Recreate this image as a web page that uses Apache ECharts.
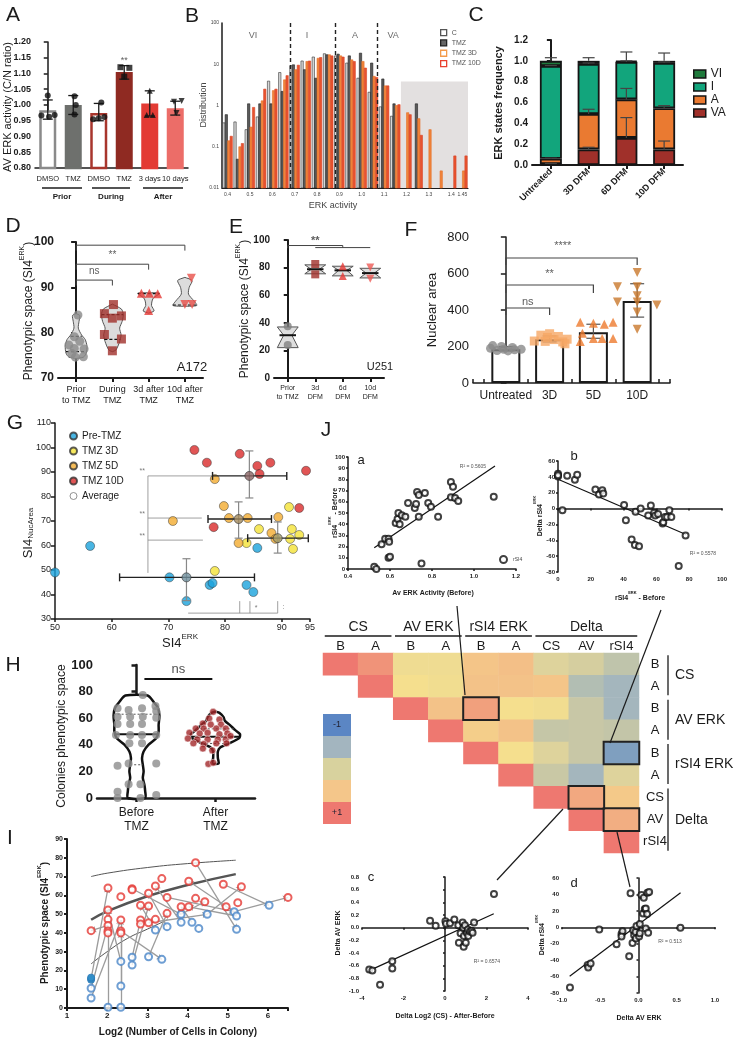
<!DOCTYPE html>
<html>
<head>
<meta charset="utf-8">
<script src="https://cdn.jsdelivr.net/npm/echarts@6/dist/echarts.min.js"></script>
<style>
html, body { margin: 0; padding: 0; background: #fff; }
#fig { width: 738px; height: 1039px; }
</style>
</head>
<body>
<div id="fig"></div>
<script>

var FONT = '"Liberation Sans", Arial, sans-serif';
var INK = '#1b1b1b';
var DOWN = 'path://M0,0L10,0L5,9Z';

// ---------- A : AV ERK activity ----------
var aCats = ['DMSO', 'TMZ', 'DMSO', 'TMZ', '3 days', '10 days'];
var aMeans = [0.983, 1.0, 0.975, 1.105, 1.005, 0.99];
var aLow = [0.955, 0.97, 0.95, 1.082, 0.965, 0.968];
var aHigh = [1.016, 1.03, 1.005, 1.125, 1.045, 1.012];
var aFill = ['#ffffff', '#6e706d', '#ffffff', '#8f2a22', '#e33b34', '#ec6d68'];
var aEdge = ['#8a8a8a', '#6e706d', '#a8362d', '#8f2a22', '#e33b34', '#ec6d68'];
var aSymbol = ['circle', 'circle', 'circle', 'rect', 'triangle', DOWN];
var aDots = [
    [[0.0, 1.03], [-0.25, 0.967], [0.05, 0.963], [0.27, 0.968]],
    [[0.05, 1.028], [0.1, 1.0], [0.05, 0.97]],
    [[0.1, 1.008], [-0.22, 0.955], [0.0, 0.958], [0.22, 0.962]],
    [[-0.15, 1.12], [0.2, 1.118], [0.0, 1.09]],
    [[0.0, 1.045], [-0.12, 0.968], [0.12, 0.968]],
    [[-0.05, 1.01], [0.25, 1.013], [0.05, 0.975]]
];

// ---------- B : ERK activity distribution ----------
var bBins = ['0.4', '0.45', '0.5', '0.55', '0.6', '0.65', '0.7', '0.75', '0.8', '0.85', '0.9',
             '0.95', '1.0', '1.05', '1.1', '1.15', '1.2', '1.25', '1.3', '1.35', '1.4', '1.45'];
var bC    = [0.38, 0.4, 0.26, 0.53, 3.9, 6.3, 9.2, 12, 15, 18, 16, 10.7, 4.6, 2.1, 0.93, 0.55, null, null, null, null, null, null];
var bTMZ  = [0.6, 0.05, 1.1, 1.1, 1.1, 2.2, 9.7, 7.4, 4.6, 17, 17.6, 16, 18.6, 10.7, 4.4, 1.1, null, 1.1, null, null, null, null];
var b3D   = [0.14, 0.1, 0.3, 1.3, 2.3, 4.2, 7.4, 11.7, 14, 17, 16, 12.8, 11.7, 5.1, 3.0, 1.0, 0.67, 0.48, 0.26, 0.026, null, 0.026];
var b10D  = [0.18, 0.12, 0.9, 2.5, 2.5, 5.3, 9.5, 12, 14.6, 16, 15, 11.7, 8.1, 4.8, 3.0, 1.05, 0.6, 0.19, null, null, 0.06, 0.06];
var bCuts = [0.675, 0.875, 1.075];
var bStates = [[0.514, 50, 'VI'], [0.755, 50, 'I'], [0.97, 50, 'A'], [1.14, 50, 'VA']];

// ---------- C : ERK states frequency ----------
var cCats = ['Untreated', '3D DFM', '6D DFM', '10D DFM'];
var cVA = [0.01, 0.15, 0.26, 0.15];
var cA  = [0.05, 0.34, 0.37, 0.395];
var cI  = [0.89, 0.48, 0.36, 0.435];
var cVI = [0.05, 0.03, 0.01, 0.02];
var cErrVA = [0.015, 0.17, 0.455, 0.23];
var cErrA  = [0.065, 0.535, 0.735, 0.57];
var cErrI  = [0.955, 0.98, 1.0, 0.99];
var cErrVI = [1.03, 1.03, 1.085, 1.075];

// ---------- D : A172 phenotypic space ----------
var dCats = ['Prior\nto TMZ', 'During\nTMZ', '3d after\nTMZ', '10d after\nTMZ'];
var dDots = [
    [[0.05, 83.9], [-0.05, 79.1], [0.1, 78.1], [-0.2, 77.3], [-0.05, 76.5], [0.22, 76.4], [-0.12, 75.4], [0.2, 74.7], [-0.02, 74.6]],
    [[0.03, 86.2], [-0.22, 84.2], [0.0, 83.2], [0.25, 83.7], [-0.22, 79.6], [0.25, 78.6], [0.0, 76.0]],
    [[-0.2, 88.7], [0.02, 88.7], [0.25, 88.6], [0.0, 84.9]],
    [[0.18, 92], [0.0, 86.2], [0.2, 86.2]]
];
var dViolins = [
    [[74.3, 0], [74.6, 0.2], [75.5, 0.28], [77, 0.3], [78.5, 0.25], [79.5, 0.15], [81, 0.06], [82.5, 0.08], [83.8, 0.1], [84.2, 0]],
    [[75.8, 0], [76.2, 0.1], [78, 0.2], [79.5, 0.24], [81, 0.2], [82.5, 0.27], [84, 0.3], [85.2, 0.25], [86.3, 0]],
    [[84.3, 0], [84.8, 0.15], [86, 0.08], [87.5, 0.12], [88.7, 0.3], [88.8, 0]],
    [[85.8, 0], [86, 0.33], [87, 0.25], [88.5, 0.1], [90, 0.12], [91.5, 0.2], [92.2, 0]]
];
var dLines = [[0, 79.2, 0.15], [0, 75.8, 0.28], [1, 84.0, 0.3], [1, 78.5, 0.22], [2, 88.6, 0.3], [3, 86.1, 0.33]];
var dBrackets = [[0, 1, 91.6, 1.2, 1.2], [0, 2, 95.1, 1.2, 1.2], [0, 3, 99.3, 1.2, 1.2]];
var dSigns = [[0.5, 93.5, 'ns'], [1, 97, '**'], [1.5, 101.2, '**']];

// ---------- E : U251 phenotypic space ----------
var eCats = ['Prior\nto TMZ', '3d\nDFM', '6d\nDFM', '10d\nDFM'];
var eDots = [[[0, 37.5], [0, 24]], [[0, 82.6], [0, 75.1]], [[0, 81], [0, 74]], [[0, 80], [0, 72]]];
var eShapes = [
    [[22, 0.38], [31, 0.15], [37, 0.38]],
    [[75.5, 0.38], [78.8, 0.15], [82, 0.38]],
    [[74, 0.38], [78, 0.15], [81, 0.38]],
    [[72.5, 0.38], [76, 0.15], [79.5, 0.38]]
];
var eMedians = [[0, 31, 0.3], [1, 78.8, 0.3], [2, 78, 0.3], [3, 76, 0.3]];
var eBrackets = [[0, 2, 96, 2, 1.5], [1, 3, 94.5, 0, 0]];
var eSigns = [[1, 99, '**']];

// ---------- F : nuclear area ----------
var fCats = ['Untreated', '3D', '5D', '10D'];
var fMeans = [185, 240, 278, 450];
var fErr = [[0, 176, 200], [1, 225, 258], [2, 245, 322], [3, 361, 544]];
var fDots = [
    [[-0.3, 205], [-0.1, 200], [0.15, 195], [0.35, 185], [-0.35, 190], [-0.05, 185], [0.2, 182], [-0.2, 178], [0.05, 176]],
    [[-0.35, 230], [-0.05, 250], [0.2, 255], [0.4, 240], [-0.2, 262], [0.1, 238], [0.3, 225], [-0.1, 228], [0.35, 215], [0.0, 270]],
    [[-0.3, 333], [0.0, 328], [0.25, 322], [0.45, 333], [-0.25, 272], [0.0, 244], [0.2, 244], [0.45, 244], [-0.3, 228]],
    [[0, 605], [-0.45, 528], [0, 528], [0, 478], [-0.45, 444], [0, 444], [0.45, 428], [0, 389], [0, 294]]
];
var fBrackets = [[0, 1, 411, 38, 38], [0, 2, 537, 44, 44], [0, 3, 685, 38, 38]];
var fSigns = [[0.5, 445, 'ns'], [1, 600, '**'], [1.3, 752, '****']];

// ---------- G : SI4 ERK vs SI4 nuclear area ----------
var gPre  = [[50, 49], [56.2, 59.8], [70.2, 47], [73.2, 37.3], [77.3, 43.9], [77.8, 44.7], [83.8, 43.9], [85, 41], [85.7, 59]];
var g3D   = [[78.2, 49.6], [83.8, 61], [86, 66.7], [91.3, 75.7], [91.8, 66.7], [93.1, 64.3], [91.5, 62.7], [92, 58.6]];
var g5D   = [[78.2, 87.1], [70.8, 70], [79.8, 76.1], [80.7, 71.2], [84, 71.2], [89.4, 71.6], [88.2, 65.1], [82.4, 61], [88.9, 62.7]];
var g10D  = [[74.6, 99], [76.8, 93.8], [82.6, 97.4], [85.7, 92.5], [88, 93.8], [86.1, 89.2], [94.3, 90.5], [93.1, 75.3], [78, 67.5]];
// [x, y, xlow, xhigh, ylow, yhigh]
var gAvg  = [[73.2, 47, 61.4, 85.2, 37.5, 54.6], [89.3, 63, 84, 94.7, 56.9, 69.6], [82.4, 70.8, 77, 88.2, 63, 77.8], [84.3, 88.4, 77.8, 90.9, 79.4, 98.6]];
var gAvgColors = ['#6f8f9c', '#a39c6c', '#a3895c', '#8a6464'];
var gSigLines = [
    [66.4, 88.4, 66.4, 48.8], [66.4, 88.4, 77.9, 88.4], [66.4, 71.2, 75.9, 71.2], [66.4, 62.2, 76.1, 62.2],
    [73.5, 32.4, 89.3, 32.4], [82.6, 32.4, 82.6, 37.3], [84.4, 32.4, 84.4, 37.3], [89.3, 32.4, 89.3, 37.3]
];
var gSigns = [[65.4, 90.5, '**'], [65.4, 73, '**'], [65.4, 64, '**'], [85.5, 34.5, '*'], [90.3, 35, ':']];

// ---------- H : colonies phenotypic space ----------
var hCats = ['Before\nTMZ', 'After\nTMZ'];
var hBefore = [[-0.24, 67.4], [-0.1, 66.2], [0.08, 77.4], [0.07, 67.4], [0.24, 69.2], [0.25, 65.4], [-0.24, 61], [-0.08, 61],
    [0.08, 61], [0.25, 60.4], [-0.24, 55.6], [-0.08, 55.6], [0.07, 55.6], [-0.26, 47.4], [-0.08, 47.4], [0.07, 47.4],
    [0.25, 47.4], [-0.09, 41.1], [0.07, 41.1], [-0.24, 24.3], [-0.1, 26], [0.25, 26], [-0.1, 10.3], [0.05, 10.3],
    [-0.24, 4.7], [0.25, 2.3], [-0.24, 0], [0.05, 0]];
var hAfter = [[-0.03, 64.8], [-0.08, 59.8], [0.05, 59], [-0.16, 56], [-0.06, 55.2], [0.07, 55.2], [-0.25, 52.2], [-0.15, 52.2],
    [0.01, 52.2], [0.13, 52.2], [-0.33, 49], [-0.2, 48.5], [-0.1, 49], [0.05, 48], [0.15, 48.5], [-0.35, 44.7], [-0.23, 44],
    [-0.1, 44], [0.03, 44], [0.13, 44.2], [0.19, 46.6], [-0.28, 41.1], [-0.15, 40.6], [0.01, 41.1], [0.14, 41.1],
    [-0.16, 37.2], [-0.04, 35.8], [-0.09, 25.6], [-0.03, 26.5]];
var hViolins = [
    [[0, 0.11], [5, 0.11], [10, 0.1], [15, 0.08], [20, 0.09], [25, 0.08], [30, 0.07], [35, 0.09], [40, 0.15], [45, 0.25],
     [50, 0.28], [55, 0.28], [62, 0.29], [68, 0.27], [72, 0.22], [77, 0.14]],
    [[26, 0.04], [30, 0.03], [35, 0.03], [38, 0.06], [41, 0.17], [45, 0.3], [48, 0.31], [51, 0.25], [55, 0.18], [58, 0.12],
     [61, 0.1], [64, 0.05], [65, 0.0]]
];
var hMedians = [[0, 48, 0.28], [1, 46, 0.3]];
var hQuartiles = [[0, 63, 0.29], [0, 25, 0.08], [1, 52, 0.25], [1, 41, 0.17]];
var hBrackets = [[0.1, 0.96, 89.5, 0, 0]];
var hSigns = [[0.53, 97, 'ns']];

// ---------- I : colony size vs phenotypic space ----------
var iBefore = [[1.6, 5.3], [1.6, 10.5], [2.02, 0.4], [2.34, 0.4], [2.34, 11.7], [2.34, 24.8], [2.62, 27], [2.62, 22.9],
    [3.03, 27.3], [3.2, 41.5], [3.36, 25.9], [3.49, 43.3], [3.84, 49.9], [3.84, 45.6], [4.11, 45.6], [4.28, 42.4],
    [4.49, 49.9], [5.16, 51.3], [5.22, 49], [5.22, 41.9], [6.03, 54.7]];
var iBeforeFilled = [[1.6, 15], [1.6, 15.6], [1.6, 16.2]];
var iAfter = [[1.6, 41.2], [2.02, 63.9], [2.02, 52.2], [2.02, 47.2], [2.02, 44], [2.02, 41], [2.02, 40], [2.34, 59.3],
    [2.34, 46.9], [2.34, 41], [2.34, 40], [2.62, 63.5], [2.62, 63], [2.83, 54.7], [2.83, 46.9], [2.83, 44.7], [3.03, 61.1],
    [3.03, 54.3], [3.03, 45.4], [3.2, 65], [3.2, 47.2], [3.36, 68.9], [3.49, 58.9], [3.49, 50.4], [3.84, 53.9], [4.03, 53.9],
    [4.03, 67.5], [4.2, 77.4], [4.2, 58.4], [4.43, 56.6], [4.89, 65.9], [4.96, 53.9], [5.25, 56.1], [5.34, 64.6], [6.5, 58.9]];
var iArrows = [
    [[1.6, 5.3], [2.34, 46.9]], [[1.6, 10.5], [2.02, 44]], [[1.6, 15.6], [2.02, 63.9]], [[2.02, 0.4], [2.02, 41]],
    [[2.34, 0.4], [2.34, 40]], [[2.34, 11.7], [2.34, 46.9]], [[2.34, 24.8], [2.02, 52.2]], [[2.62, 22.9], [3.03, 54.3]],
    [[2.62, 27], [2.83, 46.9]], [[3.03, 27.3], [3.49, 50.4]], [[3.2, 41.5], [2.83, 54.7]], [[2.34, 41], [3.36, 25.9]],
    [[3.49, 43.3], [3.03, 61.1]], [[3.84, 49.9], [4.43, 56.6]], [[3.84, 45.6], [3.2, 65]], [[4.11, 45.6], [3.84, 53.9]],
    [[4.49, 49.9], [5.34, 64.6]], [[5.16, 51.3], [4.03, 67.5]], [[5.22, 49], [4.03, 53.9]], [[4.2, 77.4], [5.22, 41.9]],
    [[4.89, 65.9], [6.03, 54.7]], [[5.16, 51.3], [6.5, 58.9]], [[3.03, 45.4], [4.49, 49.9]], [[3.49, 58.9], [5.16, 51.3]],
    [[2.62, 63.5], [3.84, 49.9]], [[2.02, 44], [1.6, 41.2]]
];
var iUpper = [[1.6, 70], [2, 71.8], [3, 74.8], [4, 76.9], [5.2, 78.7]];
var iMiddle = [[1.6, 47], [2, 51.5], [3, 59.5], [4, 65.5], [5.2, 71.3]];
var iLower = [[1.6, 23.5], [2, 30], [2.5, 37], [3, 42], [3.5, 47]];

// ---------- J : correlations ----------
var jaPts = [[0.525, 2], [0.535, 0], [0.56, 22], [0.577, 27], [0.593, 27], [0.596, 24.4], [0.593, 10], [0.6, 11],
    [0.627, 41], [0.636, 44.6], [0.64, 50], [0.646, 40], [0.656, 48], [0.673, 46.7], [0.686, 58.9], [0.718, 54.5],
    [0.724, 58], [0.729, 68.8], [0.737, 66], [0.737, 46.7], [0.75, 5], [0.766, 67.8], [0.782, 58.9], [0.795, 55.6],
    [0.829, 46.7], [0.89, 77.6], [0.9, 73.5], [0.89, 64], [0.91, 63.4], [0.925, 60.7], [1.094, 64.5]];
var jaFit = [[0.525, 19], [1.1, 92]];
var jbPts = [[0, 44], [0, 40.6], [0, 42], [2.7, -2], [5.6, 41.5], [10.3, 36.5], [11.7, 42.8], [22.8, 24], [25, 17.6],
    [27, 23], [27.6, 18.9], [40.3, 4.6], [41.4, -14.7], [44.9, -39], [46.9, -46], [47.3, -4], [49.4, -47.4], [50.4, 0],
    [55, -8.8], [56.6, 4], [58.6, -5.4], [59.3, -8.8], [61, -6.7], [63.8, -18.9], [64.2, -17.2], [65.2, -10.5],
    [66.5, -10.5], [67.9, -2], [69.1, -10.5], [73.6, -72.5], [77.8, -34]];
var jbFit = [[0, 37], [78, -32.7]];
var jcPts = [[-3.65, -0.66], [-3.5, -0.675], [-3.13, -0.9], [-2.54, -0.53], [-2.54, -0.645], [-0.72, 0.11], [-0.45, 0.03],
    [0.02, 0.1], [0.05, 0.06], [0.24, 0.07], [0.45, 0.13], [0.64, 0.04], [0.67, -0.24], [0.75, -0.09], [0.85, 0.08],
    [0.88, 0.0], [0.9, -0.3], [0.91, -0.13], [0.96, 0.04], [1.0, -0.24], [1.05, -0.08], [1.1, -0.03], [1.12, -0.13],
    [1.2, -0.06], [1.28, -0.05], [1.33, -0.08], [1.4, 0.08], [2.36, 0.53]];
var jcFit = [[-3.6, -0.67], [2.35, 0.22]];
var jdPts = [[-0.896, -73.3], [-0.665, -46], [-0.657, -49], [-0.626, -44], [-0.513, -2.7], [-0.287, -20.5], [-0.222, -8.3],
    [-0.209, -4.7], [-0.222, -11.2], [-0.122, -35.4], [-0.104, 41.3], [-0.078, -19], [-0.07, -3.5], [-0.057, -9.6],
    [-0.039, -5.7], [-0.035, -13.8], [-0.026, 1.7], [0.008, -11.2], [0.017, 3.9], [0.017, -7.4], [0.039, 39.3],
    [0.06, 16.9], [0.069, 35.9], [0.082, 22.2], [0.095, -1.5], [0.095, 23], [0.112, 16.1], [0.117, 42], [0.126, -6.8],
    [0.139, 42.9], [0.548, -0.7]];
var jdFit = [[-0.9, -59.5], [0.55, 42]];

// correlation matrix (upper triangle, row r starts at column r)
var hmNames = ['CS B', 'CS A', 'AV B', 'AV A', 'rSI4 B', 'rSI4 A', 'dCS', 'dAV', 'drSI4'];
var hmCorr = [
    [1, 0.9, 0.42, 0.42, 0.68, 0.72, 0.2, 0.1, -0.15],
    [1, 0.5, 0.45, 0.7, 0.7, 0.68, -0.3, -0.45],
    [1, 0.7, 0.85, 0.5, 0.45, -0.05, -0.45],
    [1, 0.62, 0.7, -0.08, -0.05, -0.1],
    [1, 0.5, 0.2, -0.05, -0.75],
    [1, -0.03, -0.45, 0.2],
    [1, 0.82, 0.65],
    [1, 0.8],
    [1]
];
var hmBoxes = [[4, 2], [8, 4], [7, 6], [8, 7]];
var hmScale = ['#4f7fc2', '#7f9fbf', '#a0b4c0', '#b6c0b0', '#ccc9a3', '#e3d59a', '#f5df8e', '#f3bb86', '#ee7870'];


// ------------------------------------------------------------------
var grids = [], xAxes = [], yAxes = [], series = [], legends = [], graphics = [];

function addGrid(l, t, w, h) {
    grids.push({left: l, top: t, width: w, height: h});
    return grids.length - 1;
}

function axLine(w) {
    return {show: true, lineStyle: {color: INK, width: w}};
}

function addX(o) { xAxes.push(o); return xAxes.length - 1; }
function addY(o) { yAxes.push(o); return yAxes.length - 1; }

function hiddenX(gi, n) {
    return addX({gridIndex: gi, type: 'value', min: -0.5, max: n - 0.5, show: false});
}

function txt(x, y, s, size, o) {
    o = o || {};
    graphics.push({
        type: 'text', x: x, y: y, rotation: o.rot || 0, silent: true, z: 20,
        style: {
            text: s, fill: o.color || INK, fontSize: size, fontWeight: o.bold ? 'bold' : 'normal',
            fontFamily: FONT, align: o.align || 'center', verticalAlign: o.va || 'middle', rich: o.rich
        }
    });
}

function seg(x1, y1, x2, y2, w, color) {
    graphics.push({type: 'line', silent: true, z: 20, shape: {x1: x1, y1: y1, x2: x2, y2: y2},
        style: {stroke: color || INK, lineWidth: w || 1}});
}

function rect(x, y, w, h, fill, stroke) {
    graphics.push({type: 'rect', silent: true, z: 19, shape: {x: x, y: y, width: w, height: h},
        style: {fill: fill, stroke: stroke || null, lineWidth: 1}});
}

function supRich(size, bold) {
    var fw = bold ? 'bold' : 'normal';
    return {
        n: {fontSize: size, fontWeight: fw, verticalAlign: 'bottom', lineHeight: size + 4, fontFamily: FONT, fill: INK},
        s: {fontSize: Math.round(size * 0.62), fontWeight: fw, verticalAlign: 'top', lineHeight: size + 4, fontFamily: FONT, fill: INK},
        b: {fontSize: Math.round(size * 0.62), fontWeight: fw, verticalAlign: 'bottom', lineHeight: size + 4, fontFamily: FONT, fill: INK}
    };
}

function textSeries(xi, yi, items, size, bold, color) {
    series.push({
        type: 'scatter', xAxisIndex: xi, yAxisIndex: yi, silent: true, z: 6,
        symbolSize: 1, itemStyle: {color: 'rgba(0,0,0,0)'}, data: items,
        label: {show: true, position: 'inside', formatter: function (p) { return p.value[2]; },
            fontSize: size, fontWeight: bold ? 'bold' : 'normal', color: color || INK, fontFamily: FONT}
    });
}

function errSeries(xi, yi, items, cap, color, width, upperOnly) {
    series.push({
        type: 'custom', xAxisIndex: xi, yAxisIndex: yi, silent: true, z: 5, data: items,
        renderItem: function (params, api) {
            var x = api.value(0);
            var lo = api.coord([x, api.value(1)]);
            var hi = api.coord([x, api.value(2)]);
            var st = {stroke: color, lineWidth: width, fill: null};
            var kids = [
                {type: 'line', shape: {x1: lo[0], y1: lo[1], x2: hi[0], y2: hi[1]}, style: st},
                {type: 'line', shape: {x1: hi[0] - cap, y1: hi[1], x2: hi[0] + cap, y2: hi[1]}, style: st}
            ];
            if (!upperOnly) {
                kids.push({type: 'line', shape: {x1: lo[0] - cap, y1: lo[1], x2: lo[0] + cap, y2: lo[1]}, style: st});
            }
            return {type: 'group', children: kids};
        }
    });
}

function violinSeries(xi, yi, profiles, fill, stroke, width, smooth) {
    series.push({
        type: 'custom', xAxisIndex: xi, yAxisIndex: yi, silent: true, z: 2,
        data: profiles.map(function (p, i) { return [i, p[0][0]]; }),
        renderItem: function (params, api) {
            var prof = profiles[params.dataIndex];
            var cx = api.value(0);
            var unit = api.size([1, 0])[0];
            var left = [], right = [];
            prof.forEach(function (p) {
                var c = api.coord([cx, p[0]]);
                left.push([c[0] - p[1] * unit, c[1]]);
                right.unshift([c[0] + p[1] * unit, c[1]]);
            });
            return {type: 'polygon', shape: {points: left.concat(right), smooth: smooth || 0},
                style: {fill: fill, stroke: stroke, lineWidth: width}};
        }
    });
}

function hLineSeries(xi, yi, items, color, width, dash) {
    series.push({
        type: 'custom', xAxisIndex: xi, yAxisIndex: yi, silent: true, z: 3, data: items,
        renderItem: function (params, api) {
            var unit = api.size([1, 0])[0];
            var c = api.coord([api.value(0), api.value(1)]);
            var h = api.value(2) * unit;
            return {type: 'line', shape: {x1: c[0] - h, y1: c[1], x2: c[0] + h, y2: c[1]},
                style: {stroke: color, lineWidth: width, lineDash: dash || null}};
        }
    });
}

function bracketSeries(xi, yi, items, color, width) {
    series.push({
        type: 'custom', xAxisIndex: xi, yAxisIndex: yi, silent: true, z: 5, data: items, clip: false,
        renderItem: function (params, api) {
            var x1 = api.value(0), x2 = api.value(1), y = api.value(2);
            var pts = [api.coord([x1, y - api.value(3)]), api.coord([x1, y]), api.coord([x2, y]), api.coord([x2, y - api.value(4)])];
            return {type: 'polyline', shape: {points: pts}, style: {stroke: color, lineWidth: width, fill: null}};
        }
    });
}

function segSeries(xi, yi, items, color, width) {
    series.push({
        type: 'custom', xAxisIndex: xi, yAxisIndex: yi, silent: true, z: 3, data: items, clip: false,
        renderItem: function (params, api) {
            var a = api.coord([api.value(0), api.value(1)]);
            var b = api.coord([api.value(2), api.value(3)]);
            return {type: 'line', shape: {x1: a[0], y1: a[1], x2: b[0], y2: b[1]}, style: {stroke: color, lineWidth: width}};
        }
    });
}

function catAxis(gi, cats, size, o) {
    o = o || {};
    return addX({
        gridIndex: gi, type: 'category', data: cats,
        axisLine: axLine(o.lw || 1.5),
        axisTick: {show: !!o.ticks, alignWithLabel: true, length: 4, lineStyle: {color: INK, width: o.lw || 1.5}},
        axisLabel: {fontSize: size, color: INK, interval: 0, margin: o.margin || 5, fontWeight: o.bold ? 'bold' : 'normal',
            rotate: o.rotate || 0, lineHeight: size + 2}
    });
}

function valAxisY(gi, min, max, step, size, o) {
    o = o || {};
    return addY({
        gridIndex: gi, type: 'value', min: min, max: max, interval: step,
        axisLine: axLine(o.lw || 1.5),
        axisTick: {show: true, length: o.tick || 4, lineStyle: {color: INK, width: o.lw || 1.5}},
        splitLine: {show: false},
        axisLabel: {fontSize: size, color: INK, fontWeight: o.bold ? 'bold' : 'normal', margin: o.margin || 4,
            formatter: o.fmt || null}
    });
}

function valAxisX(gi, min, max, step, size, o) {
    o = o || {};
    return addX({
        gridIndex: gi, type: 'value', min: min, max: max, interval: step,
        axisLine: axLine(o.lw || 1.5),
        axisTick: {show: true, length: o.tick || 3, inside: !!o.inside, lineStyle: {color: INK, width: o.lw || 1.5}},
        splitLine: {show: false},
        axisLabel: {fontSize: size, color: INK, fontWeight: o.bold ? 'bold' : 'normal', margin: o.margin || 4,
            formatter: o.fmt || null}
    });
}

function fix(n) { return function (v) { return v.toFixed(n); }; }

// ================= A =================
(function () {
    var gi = addGrid(35, 42, 153, 126);
    var xi = catAxis(gi, aCats, 7.5, {margin: 6});
    var xv = hiddenX(gi, aCats.length);
    var yi = valAxisY(gi, 0.8, 1.2, 0.05, 9, {bold: true, fmt: fix(2)});

    series.push({
        type: 'bar', xAxisIndex: xi, yAxisIndex: yi, barWidth: 17, z: 2,
        data: aMeans.map(function (v, i) {
            return {value: v, itemStyle: {color: aFill[i], borderColor: aEdge[i], borderWidth: 2.5}};
        })
    });
    errSeries(xv, yi, aMeans.map(function (v, i) { return [i, aLow[i], aHigh[i]]; }), 5, INK, 1.3);
    var dots = [];
    aDots.forEach(function (g, i) {
        g.forEach(function (p) { dots.push({value: [i + p[0], p[1]], symbol: aSymbol[i]}); });
    });
    series.push({type: 'scatter', xAxisIndex: xv, yAxisIndex: yi, symbolSize: 6, z: 6,
        itemStyle: {color: '#111'}, data: dots});
    textSeries(xv, yi, [[3, 1.142, '**']], 9, false, '#333');

    txt(13, 15, 'A', 21);
    txt(8, 107, 'AV ERK activity (C/N ratio)', 11, {rot: Math.PI / 2});
    seg(42, 188, 82, 188, 1.3);
    seg(92, 188, 130, 188, 1.3);
    seg(143, 188, 183, 188, 1.3);
    txt(62, 197, 'Prior', 8, {bold: true});
    txt(111, 197, 'During', 8, {bold: true});
    txt(163, 197, 'After', 8, {bold: true});
})();

// ================= B =================
(function () {
    var gi = addGrid(222, 23, 246, 165);
    var xi = addX({
        gridIndex: gi, type: 'category', data: bBins,
        axisLine: axLine(1.2), axisTick: {show: false},
        axisLabel: {fontSize: 5, color: '#444', margin: 4, interval: 0,
            formatter: function (v) { return (v.length === 4 && v !== '1.45') ? '' : v; }}
    });
    var xv = addX({gridIndex: gi, type: 'value', min: 0.375, max: 1.475, show: false});
    var yi = addY({
        gridIndex: gi, type: 'log', logBase: 10, min: 0.01, max: 100,
        axisLine: axLine(1.5), axisTick: {show: false}, splitLine: {show: false},
        axisLabel: {fontSize: 5, color: '#444', margin: 3}
    });

    // grey zone and state boundaries
    series.push({
        type: 'line', xAxisIndex: xv, yAxisIndex: yi, data: [], z: 1, silent: true,
        markArea: {silent: true, itemStyle: {color: '#e3e0e0'},
            data: [[{xAxis: 1.175, yAxis: 0.01}, {xAxis: 1.475, yAxis: 3.8}]]},
        markLine: {silent: true, symbol: 'none', label: {show: false},
            lineStyle: {color: '#222', type: [4, 3], width: 1.4},
            data: bCuts.map(function (c) { return {xAxis: c}; })}
    });

    function bars(name, values, k, fill, edge) {
        series.push({
            type: 'custom', name: name, xAxisIndex: xi, yAxisIndex: yi, z: 3,
            itemStyle: {color: fill, borderColor: edge},
            data: values.map(function (v, i) { return [i, v]; }).filter(function (d) { return d[1] != null; }),
            renderItem: function (params, api) {
                var top = api.coord([api.value(0), api.value(1)]);
                var base = api.coord([api.value(0), 0.01]);
                var band = api.size([1, 0])[0];
                var w = band * 0.21;
                var x = top[0] - band * 0.44 + k * band * 0.22;
                return {type: 'rect', shape: {x: x, y: top[1], width: w, height: base[1] - top[1]},
                    style: {fill: fill, stroke: edge, lineWidth: 0.6}};
            }
        });
    }
    bars('C', bC, 0, '#d7d7d7', '#333');
    bars('TMZ', bTMZ, 1, '#5a5a5a', '#222');
    bars('TMZ 3D', b3D, 2, '#f0843a', '#e5702a');
    bars('TMZ 10D', b10D, 3, '#e8532e', '#d8452a');

    textSeries(xv, yi, bStates, 9, false, '#444');

    legends.push({
        left: 435, top: 24, orient: 'vertical', itemWidth: 6, itemHeight: 6, itemGap: 3,
        textStyle: {fontSize: 7, color: '#555'}, selectedMode: false,
        data: [
            {name: 'C', icon: 'rect', itemStyle: {color: '#fff', borderColor: '#555', borderWidth: 1.3}},
            {name: 'TMZ', icon: 'rect', itemStyle: {color: '#666', borderColor: '#222', borderWidth: 1.3}},
            {name: 'TMZ 3D', icon: 'rect', itemStyle: {color: '#fff', borderColor: '#f39a4a', borderWidth: 1.3}},
            {name: 'TMZ 10D', icon: 'rect', itemStyle: {color: '#fff', borderColor: '#e8402e', borderWidth: 1.3}}
        ]
    });

    txt(192, 16, 'B', 21);
    txt(204, 105, 'Distribution', 9, {rot: Math.PI / 2, color: '#444'});
    txt(333, 206, 'ERK activity', 9, {color: '#444'});
})();

// ================= C =================
(function () {
    var gi = addGrid(532, 40, 151, 125);
    var xi = catAxis(gi, cCats, 9, {bold: true, rotate: 45, ticks: true, lw: 2});
    var xv = hiddenX(gi, cCats.length);
    var yi = valAxisY(gi, 0, 1.2, 0.2, 10, {bold: true, fmt: fix(1), lw: 2});

    function part(name, values, color) {
        series.push({type: 'bar', name: name, stack: 'c', xAxisIndex: xi, yAxisIndex: yi, barWidth: 22, z: 2,
            itemStyle: {color: color, borderColor: '#151515', borderWidth: 1.8}, data: values});
    }
    part('VA', cVA, '#a0302a');
    part('A', cA, '#ea7a31');
    part('I', cI, '#12a57c');
    part('VI', cVI, '#1f7a3c');

    function tops(parts) {
        return cCats.map(function (c, i) {
            var s = 0;
            parts.forEach(function (p) { s += p[i]; });
            return s;
        });
    }
    var ends = [tops([cVA]), tops([cVA, cA]), tops([cVA, cA, cI]), tops([cVA, cA, cI, cVI])];
    var errs = [cErrVA, cErrA, cErrI, cErrVI];
    var items = [];
    errs.forEach(function (e, k) {
        e.forEach(function (v, i) { items.push([i, ends[k][i], v]); });
    });
    errSeries(xv, yi, items, 6, '#444', 1.2, true);

    legends.push({
        left: 688, top: 63, orient: 'vertical', itemWidth: 12, itemHeight: 8, itemGap: 1,
        textStyle: {fontSize: 12, color: INK, lineHeight: 11}, selectedMode: false,
        data: [
            {name: 'VI', icon: 'rect', itemStyle: {borderColor: '#151515', borderWidth: 1.5}},
            {name: 'I', icon: 'rect', itemStyle: {borderColor: '#151515', borderWidth: 1.5}},
            {name: 'A', icon: 'rect', itemStyle: {borderColor: '#151515', borderWidth: 1.5}},
            {name: 'VA', icon: 'rect', itemStyle: {borderColor: '#151515', borderWidth: 1.5}}
        ]
    });
    txt(476, 15, 'C', 21);
    txt(499, 103, 'ERK states frequency', 11, {rot: Math.PI / 2, bold: true});
})();

// ================= D =================
(function () {
    var gi = addGrid(58, 242, 145, 136);
    var xi = catAxis(gi, dCats, 9, {ticks: true, lw: 2, margin: 6});
    var xv = hiddenX(gi, dCats.length);
    var yi = valAxisY(gi, 70, 100, 10, 12, {bold: true, lw: 2, tick: 5});

    violinSeries(xv, yi, dViolins, '#dcdcdc', '#555', 1, 0.25);
    hLineSeries(xv, yi, dLines, '#111', 1.2, [3, 2]);
    var syms = ['circle', 'rect', 'triangle', DOWN];
    var cols = ['#8a8a8a', '#a0302a', '#e53a36', '#e8504a'];
    dDots.forEach(function (g, i) {
        series.push({type: 'scatter', xAxisIndex: xv, yAxisIndex: yi, symbol: syms[i], symbolSize: 9, z: 6,
            itemStyle: {color: cols[i]}, data: g.map(function (p) { return [i + p[0], p[1]]; })});
    });
    bracketSeries(xv, yi, dBrackets, '#444', 1);
    textSeries(xv, yi, dSigns, 10, false, '#333');

    txt(13, 226, 'D', 21);
    txt(27, 311, '{n|Phenotypic space (SI4}{s|ERK}{n|)}', 12, {rot: Math.PI / 2, rich: supRich(12)});
    txt(192, 367, 'A172', 13);
})();

// ================= E =================
(function () {
    var gi = addGrid(274, 240, 110, 138);
    var xi = catAxis(gi, eCats, 7, {ticks: true, lw: 2, margin: 6});
    var xv = hiddenX(gi, eCats.length);
    var yi = valAxisY(gi, 0, 100, 20, 10, {bold: true, lw: 2, tick: 4});

    violinSeries(xv, yi, eShapes, '#dedede', '#555', 1, 0);
    hLineSeries(xv, yi, eMedians, '#111', 2);
    var syms = ['circle', 'rect', 'triangle', DOWN];
    var cols = ['#7f7f7f', '#a0302a', '#e53a36', '#ee5a55'];
    eDots.forEach(function (g, i) {
        series.push({type: 'scatter', xAxisIndex: xv, yAxisIndex: yi, symbol: syms[i], symbolSize: 8, z: 6,
            itemStyle: {color: cols[i]}, data: g.map(function (p) { return [i + p[0], p[1]]; })});
    });
    bracketSeries(xv, yi, eBrackets, '#444', 1);
    textSeries(xv, yi, eSigns, 11, true, '#333');

    txt(236, 227, 'E', 21);
    txt(243, 309, '{n|Phenotypic space (SI4}{s|ERK}{n|)}', 12, {rot: Math.PI / 2, rich: supRich(12)});
    txt(380, 367, 'U251', 11);
})();

// ================= F =================
(function () {
    var gi = addGrid(473, 237, 197, 146);
    var xi = valAxisX(gi, -0.75, 3.75, 0.25, 12, {inside: true, tick: 4, margin: 7,
        fmt: function (v) {
            var r = Math.round(v);
            return (Math.abs(v - r) < 1e-6 && r >= 0 && r < fCats.length) ? fCats[r] : '';
        }});
    var yi = valAxisY(gi, 0, 800, 200, 13, {tick: 5});

    series.push({type: 'bar', xAxisIndex: xi, yAxisIndex: yi, barWidth: 29, z: 2,
        itemStyle: {color: '#fff', borderColor: INK, borderWidth: 2},
        data: fMeans.map(function (v, i) { return [i, v]; })});
    var syms = ['circle', 'rect', 'triangle', DOWN];
    var cols = ['#8a8a8a', '#f6a865', '#ee7a2e', '#c9782c'];
    fDots.forEach(function (g, i) {
        series.push({type: 'scatter', xAxisIndex: xi, yAxisIndex: yi, symbol: syms[i], symbolSize: 9, z: 6,
            itemStyle: {color: cols[i]}, data: g.map(function (p) { return [i + p[0], p[1]]; })});
    });
    errSeries(xi, yi, fErr, 7, '#555', 1.2);
    bracketSeries(xi, yi, fBrackets, '#444', 1.2);
    textSeries(xi, yi, fSigns, 11, false, '#333');

    txt(411, 230, 'F', 21);
    txt(432, 310, 'Nuclear area', 13, {rot: Math.PI / 2});
})();

// ================= G =================
(function () {
    var gi = addGrid(55, 423, 255, 196);
    var xi = valAxisX(gi, 50, 95, 10, 9, {tick: 0, lw: 1.5});
    var yi = valAxisY(gi, 30, 110, 10, 9, {tick: 0, lw: 1.5});

    segSeries(xi, yi, gSigLines, '#888', 0.8);
    textSeries(xi, yi, gSigns, 7, false, '#555');

    function group(name, pts, color) {
        series.push({type: 'scatter', name: name, xAxisIndex: xi, yAxisIndex: yi, symbolSize: 9, z: 5,
            itemStyle: {color: color, borderColor: '#333', borderWidth: 0.6}, data: pts});
    }
    group('G:Pre-TMZ', gPre, '#1aa3dc');
    group('G:TMZ 3D', g3D, '#f4e236');
    group('G:TMZ 5D', g5D, '#f2ab2f');
    group('G:TMZ 10D', g10D, '#d92a2a');

    series.push({
        type: 'custom', xAxisIndex: xi, yAxisIndex: yi, silent: true, z: 6, data: gAvg,
        renderItem: function (params, api) {
            var x = api.value(0), y = api.value(1);
            var a = api.coord([api.value(2), y]), b = api.coord([api.value(3), y]);
            var c = api.coord([x, api.value(4)]), d = api.coord([x, api.value(5)]);
            var k = {stroke: '#222', lineWidth: 1.4}, g = {stroke: '#888', lineWidth: 1.2};
            return {type: 'group', children: [
                {type: 'line', shape: {x1: c[0], y1: c[1], x2: d[0], y2: d[1]}, style: g},
                {type: 'line', shape: {x1: c[0] - 4, y1: c[1], x2: c[0] + 4, y2: c[1]}, style: g},
                {type: 'line', shape: {x1: d[0] - 4, y1: d[1], x2: d[0] + 4, y2: d[1]}, style: g},
                {type: 'line', shape: {x1: a[0], y1: a[1], x2: b[0], y2: b[1]}, style: k},
                {type: 'line', shape: {x1: a[0], y1: a[1] - 4, x2: a[0], y2: a[1] + 4}, style: k},
                {type: 'line', shape: {x1: b[0], y1: b[1] - 4, x2: b[0], y2: b[1] + 4}, style: k}
            ]};
        }
    });
    series.push({type: 'scatter', name: 'G:Average', xAxisIndex: xi, yAxisIndex: yi, symbolSize: 9, z: 7,
        itemStyle: {color: '#888', borderColor: '#333', borderWidth: 0.8},
        data: gAvg.map(function (a, i) { return {value: [a[0], a[1]], itemStyle: {color: gAvgColors[i]}}; })});

    legends.push({
        left: 64, top: 426, orient: 'vertical', itemWidth: 7, itemHeight: 7, itemGap: 5, selectedMode: false,
        textStyle: {fontSize: 10, color: INK},
        formatter: function (n) { return n.replace('G:', ''); },
        data: [
            {name: 'G:Pre-TMZ', icon: 'circle'}, {name: 'G:TMZ 3D', icon: 'circle'}, {name: 'G:TMZ 5D', icon: 'circle'},
            {name: 'G:TMZ 10D', icon: 'circle'},
            {name: 'G:Average', icon: 'circle', itemStyle: {color: '#fff', borderColor: '#777', borderWidth: 1}}
        ]
    });

    txt(15, 423, 'G', 21);
    txt(26, 533, '{n|SI4}{b|NucArea}', 13, {rot: Math.PI / 2, rich: supRich(13)});
    txt(180, 641, '{n|SI4}{s|ERK}', 13, {rich: supRich(13)});
})();

// ================= H =================
(function () {
    var gi = addGrid(97, 665, 158, 133);
    var xi = catAxis(gi, hCats, 12, {ticks: true, lw: 2.5, margin: 8});
    var xv = hiddenX(gi, hCats.length);
    var yi = valAxisY(gi, 0, 100, 20, 13, {bold: true, lw: 2.5, tick: 5});

    violinSeries(xv, yi, hViolins, '#fff', '#111', 2.5, 0.25);
    hLineSeries(xv, yi, hMedians, '#111', 2);
    hLineSeries(xv, yi, hQuartiles, '#555', 1, [2, 2]);
    series.push({type: 'scatter', xAxisIndex: xv, yAxisIndex: yi, symbolSize: 8, z: 6,
        itemStyle: {color: '#8c8c8c'}, data: hBefore});
    series.push({type: 'scatter', xAxisIndex: xv, yAxisIndex: yi, symbolSize: 7, z: 6,
        itemStyle: {color: '#a3282a', borderColor: '#fff', borderWidth: 0.6},
        data: hAfter.map(function (p) { return [1 + p[0], p[1]]; })});
    bracketSeries(xv, yi, hBrackets, '#111', 2);
    textSeries(xv, yi, hSigns, 13, false, INK);

    txt(13, 665, 'H', 21);
    txt(62, 736, 'Colonies phenotypic space', 12, {rot: Math.PI / 2});
})();

// ================= I =================
(function () {
    var gi = addGrid(67, 839, 221, 169);
    var xi = valAxisX(gi, 1, 6.5, 1, 8, {bold: true, lw: 2, tick: 3,
        fmt: function (v) { return v > 6 ? '' : v; }});
    var yi = valAxisY(gi, 0, 90, 10, 7, {bold: true, lw: 2, tick: 3});

    function curve(pts, w, color) {
        series.push({type: 'line', xAxisIndex: xi, yAxisIndex: yi, data: pts, smooth: true, symbol: 'none', z: 2,
            silent: true, lineStyle: {color: color, width: w}});
    }
    curve(iUpper, 1, '#555');
    curve(iMiddle, 2.5, '#555');
    curve(iLower, 1, '#555');

    series.push({
        type: 'lines', coordinateSystem: 'cartesian2d', xAxisIndex: xi, yAxisIndex: yi, z: 3, silent: true,
        symbol: ['none', 'arrow'], symbolSize: 5,
        lineStyle: {color: '#9c9c9c', width: 1.3, opacity: 1},
        data: iArrows.map(function (a) { return {coords: a}; })
    });
    series.push({type: 'scatter', xAxisIndex: xi, yAxisIndex: yi, symbol: 'emptyCircle', symbolSize: 7, z: 5,
        itemStyle: {color: '#4a86c8', borderWidth: 1.3}, data: iBefore});
    series.push({type: 'scatter', xAxisIndex: xi, yAxisIndex: yi, symbol: 'circle', symbolSize: 7, z: 5,
        itemStyle: {color: '#2f8fc8', borderColor: '#2a79b8', borderWidth: 1}, data: iBeforeFilled});
    series.push({type: 'scatter', xAxisIndex: xi, yAxisIndex: yi, symbol: 'emptyCircle', symbolSize: 7, z: 5,
        itemStyle: {color: '#e53935', borderWidth: 1.3}, data: iAfter});

    txt(10, 838, 'I', 21);
    txt(43, 923, '{n|Phenotypic space (SI4}{s|ERK}{n|)}', 10, {rot: Math.PI / 2, rich: supRich(10, true)});
    txt(178, 1032, 'Log2 (Number of Cells in Colony)', 10, {bold: true});
})();

// ================= J a, b =================
function jScatter(gi, xr, yr, pts, fit, xfmt, yfmt, name) {
    var xi = valAxisX(gi, xr[0], xr[1], xr[2], 6, {bold: true, lw: 1.5, tick: 2, fmt: xfmt});
    var yi = valAxisY(gi, yr[0], yr[1], yr[2], 6, {bold: true, lw: 1.5, tick: 2, fmt: yfmt, margin: 3});
    series.push({type: 'line', xAxisIndex: xi, yAxisIndex: yi, data: fit, symbol: 'none', z: 2, silent: true,
        lineStyle: {color: '#111', width: 1.2}});
    series.push({type: 'scatter', name: name, xAxisIndex: xi, yAxisIndex: yi, symbol: 'emptyCircle', symbolSize: 6, z: 4,
        itemStyle: {color: '#111', borderWidth: 1.2}, data: pts});
}

(function () {
    var ga = addGrid(348, 457, 168, 112);
    jScatter(ga, [0.4, 1.2, 0.2], [0, 100, 10], jaPts, jaFit, fix(1), null, 'rSI4');
    legends.push({left: 494, top: 550, itemWidth: 9, itemHeight: 7, selectedMode: false,
        textStyle: {fontSize: 5, color: '#444'}, data: [{name: 'rSI4', icon: 'circle',
            itemStyle: {color: '#fff', borderColor: '#111', borderWidth: 2}}]});
    var gb = addGrid(558, 461, 164, 111);
    jScatter(gb, [0, 100, 20], [-80, 60, 20], jbPts, jbFit, null, null, 'jb');

    txt(326, 430, 'J', 21);
    txt(361, 460, 'a', 13);
    txt(574, 456, 'b', 13);
    txt(473, 467, 'R\u00b2 = 0.5605', 5, {color: '#555'});
    txt(703, 554, 'R\u00b2 = 0.5578', 5, {color: '#555'});
    txt(333, 513, '{n|rSI4}{s|ERK}{n| - Before}', 7, {rot: Math.PI / 2, rich: supRich(7, true)});
    txt(433, 593, 'Av ERK Activity (Before)', 7, {bold: true});
    txt(538, 516, '{n|Delta rSI4}{s|ERK}', 7, {rot: Math.PI / 2, rich: supRich(7, true)});
    txt(640, 596, '{n|rSI4}{s|ERK}{n| - Before}', 7, {rich: supRich(7, true)});
})();

// ================= correlation heatmap =================
var heatIndex = 0;
(function () {
    var L = 323, T = 653, W = 316, H = 200;
    var gi = addGrid(L, T, W, H);
    var xi = addX({gridIndex: gi, type: 'category', data: hmNames, show: false});
    var yi = addY({gridIndex: gi, type: 'category', data: hmNames, inverse: true, show: false});

    var cells = [];
    hmCorr.forEach(function (row, r) {
        row.forEach(function (v, k) { cells.push([r + k, r, v]); });
    });
    series.push({type: 'heatmap', xAxisIndex: xi, yAxisIndex: yi, data: cells, z: 2, silent: true,
        itemStyle: {borderWidth: 0}});
    heatIndex = series.length - 1;
    series.push({type: 'heatmap', xAxisIndex: xi, yAxisIndex: yi, z: 3, silent: true,
        data: hmBoxes.map(function (b) { return [b[0], b[1], 0]; }),
        itemStyle: {color: 'rgba(0,0,0,0)', borderColor: '#222', borderWidth: 2}});

    var cw = W / 9, rh = H / 9;
    function cx(c) { return L + cw * (c + 0.5); }
    function cy(r) { return T + rh * (r + 0.5); }

    var heads = [['CS', 0, 1], ['AV ERK', 2, 3], ['rSI4 ERK', 4, 5], ['Delta', 6, 8]];
    heads.forEach(function (h) {
        var mid = (cx(h[1]) + cx(h[2])) / 2;
        txt(mid, 627, h[0], 14);
        seg(cx(h[1]) - cw * 0.45, 636, cx(h[2]) + cw * 0.45, 636, 1.3);
    });
    ['B', 'A', 'B', 'A', 'B', 'A', 'CS', 'AV', 'rSI4'].forEach(function (s, i) {
        txt(cx(i), 646, s, 13);
        txt(655, cy(i), s, 13);
    });
    heads.forEach(function (g) {
        seg(668, cy(g[1]) - rh * 0.4, 668, cy(g[2]) + rh * 0.4, 1.3);
        txt(675, (cy(g[1]) + cy(g[2])) / 2, g[0], 14, {align: 'left'});
    });

    // colour key
    var key = ['#5b86c4', '#a3b5bf', '#d8d29e', '#f4c68a', '#ee7870'];
    key.forEach(function (c, i) { rect(L, 714 + 22 * i, 28, 22, c); });
    txt(L + 14, 725, '-1', 9, {color: '#223'});
    txt(L + 14, 813, '+1', 9, {color: '#223'});

    // links to the scatter panels
    seg(465, 695, 457, 606, 1.2);
    seg(610, 743, 661, 610, 1.2);
    seg(563, 809, 497, 880, 1.2);
    seg(617, 832, 630, 887, 1.2);
})();

// ================= J c, d =================
(function () {
    var gc = addGrid(362, 877, 166, 114);
    jScatter(gc, [-4, 4, 2], [-1.0, 0.8, 0.2], jcPts, jcFit, null, fix(1), 'jc');
    var gd = addGrid(562, 878, 153, 115);
    jScatter(gd, [-1.0, 1.0, 0.5], [-80, 60, 20], jdPts, jdFit, fix(1), null, 'jd');

    txt(371, 877, 'c', 13);
    txt(574, 883, 'd', 13);
    txt(487, 962, 'R\u00b2 = 0.6574', 5, {color: '#555'});
    txt(670, 942, 'R\u00b2 = 0.513', 5, {color: '#555'});
    txt(338, 933, 'Delta AV ERK', 7, {rot: Math.PI / 2, bold: true});
    txt(445, 1016, 'Delta Log2 (CS) - After-Before', 7, {bold: true});
    txt(540, 935, '{n|Delta rSI4}{s|ERK}', 7, {rot: Math.PI / 2, rich: supRich(7, true)});
    txt(639, 1018, 'Delta AV ERK', 7, {bold: true});
})();

var chart = echarts.init(document.getElementById('fig'), null, {renderer: 'canvas'});
chart.setOption({
    animation: false,
    backgroundColor: '#fff',
    textStyle: {fontFamily: FONT, color: INK},
    grid: grids,
    xAxis: xAxes,
    yAxis: yAxes,
    legend: legends,
    visualMap: [{type: 'continuous', min: -1, max: 1, show: false, seriesIndex: heatIndex,
        inRange: {color: hmScale}}],
    series: series,
    graphic: graphics
});
</script>
</body>
</html>
